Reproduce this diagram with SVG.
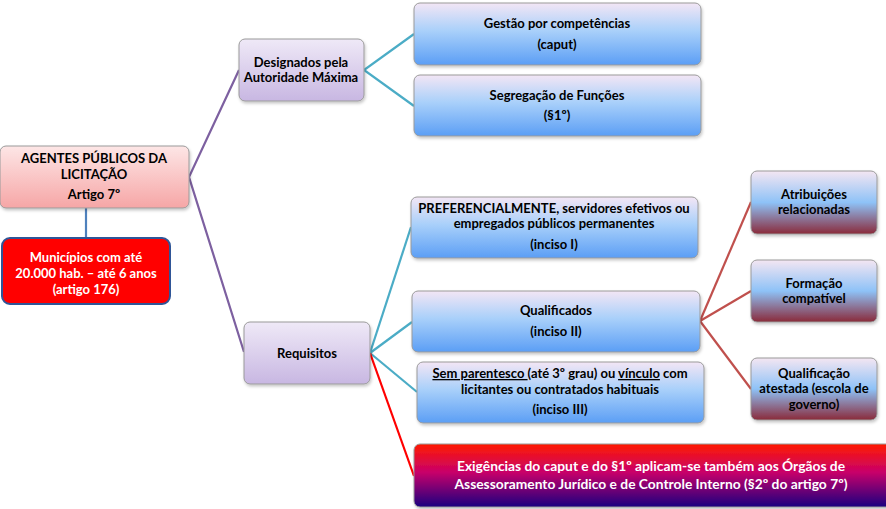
<svg xmlns="http://www.w3.org/2000/svg" width="886" height="509" viewBox="0 0 886 509">
<defs>
<linearGradient id="gPink" x1="0" y1="0" x2="0" y2="1"><stop offset="0" stop-color="#fde6e6"/><stop offset="1" stop-color="#f6a6a6"/></linearGradient>
<linearGradient id="gPurple" x1="0" y1="0" x2="0" y2="1"><stop offset="0" stop-color="#efe9f7"/><stop offset="1" stop-color="#c8b7e2"/></linearGradient>
<linearGradient id="gBlue" x1="0" y1="0" x2="0" y2="1"><stop offset="0" stop-color="#f3e6f5"/><stop offset="0.45" stop-color="#a9d0fa"/><stop offset="1" stop-color="#5b9ef5"/></linearGradient>
<linearGradient id="gMix" x1="0" y1="0" x2="0" y2="1"><stop offset="0" stop-color="#f4e6f2"/><stop offset="0.5" stop-color="#8ec2f7"/><stop offset="1" stop-color="#8a2a3a"/></linearGradient>
<linearGradient id="gBottom" x1="0" y1="0" x2="0" y2="1"><stop offset="0" stop-color="#ff1a00"/><stop offset="0.45" stop-color="#c8006a"/><stop offset="1" stop-color="#1a0080"/></linearGradient>
<filter id="sh" x="-10%" y="-10%" width="120%" height="130%"><feDropShadow dx="1" dy="2" stdDeviation="1.5" flood-color="#000" flood-opacity="0.22"/></filter>
</defs>
<style>
text{font-family:Lato,"Liberation Sans",sans-serif;font-weight:bold;font-size:13px;text-anchor:middle;fill:#000}
.w{fill:#fff}
.big{font-size:13.8px}
.box{stroke:#9a9a9a;stroke-width:1;filter:url(#sh)}
.c{fill:none;stroke-width:2.2}
</style>
<g id="connectors">
<polyline class="c" stroke="#7d60a0" points="239,70 189,177 244,352"/>
<line class="c" stroke="#4f81bd" stroke-width="1.5" x1="86" y1="208" x2="86" y2="238"/>
<polyline class="c" stroke="#4bacc6" points="414,34 364,70 414,106"/>
<line class="c" stroke="#4bacc6" x1="370" y1="353" x2="411" y2="227"/>
<line class="c" stroke="#4bacc6" x1="370" y1="353" x2="412" y2="322"/>
<line class="c" stroke="#4bacc6" x1="370" y1="353" x2="417" y2="392"/>
<line class="c" stroke="#ff0000" x1="370" y1="353" x2="414" y2="476"/>
<line class="c" stroke="#c0504d" x1="700" y1="321" x2="751" y2="202"/>
<line class="c" stroke="#c0504d" x1="700" y1="321" x2="751" y2="291"/>
<line class="c" stroke="#c0504d" x1="700" y1="321" x2="751" y2="389"/>
</g>
<g id="root">
<rect class="box" x="0" y="146" width="189" height="62" rx="6" fill="url(#gPink)"/>
<text x="94" y="163">AGENTES PÚBLICOS DA</text>
<text x="94" y="179">LICITAÇÃO</text>
<text x="94" y="199">Artigo 7º</text>
</g>
<g id="municipios">
<rect x="2" y="238" width="168" height="66" rx="8" fill="#ff0000" stroke="#2f5597" stroke-width="2"/>
<text class="w" x="86" y="262">Municípios com até</text>
<text class="w" x="86" y="278">20.000 hab. – até 6 anos</text>
<text class="w" x="86" y="294">(artigo 176)</text>
</g>
<g id="designados">
<rect class="box" x="239" y="39" width="125" height="62" rx="6" fill="url(#gPurple)"/>
<text x="301" y="67">Designados pela</text>
<text x="301" y="82">Autoridade Máxima</text>
</g>
<g id="requisitos">
<rect class="box" x="244" y="322" width="126" height="62" rx="6" fill="url(#gPurple)"/>
<text x="307" y="358">Requisitos</text>
</g>
<g id="gestao">
<rect class="box" x="414" y="3" width="287" height="62" rx="6" fill="url(#gBlue)"/>
<text x="557" y="28">Gestão por competências</text>
<text x="557" y="49">(caput)</text>
</g>
<g id="segregacao">
<rect class="box" x="414" y="75" width="287" height="61" rx="6" fill="url(#gBlue)"/>
<text x="557" y="100">Segregação de Funções</text>
<text x="557" y="120">(§1º)</text>
</g>
<g id="preferencialmente">
<rect class="box" x="411" y="197" width="287" height="61" rx="6" fill="url(#gBlue)"/>
<text x="554" y="213">PREFERENCIALMENTE, servidores efetivos ou</text>
<text x="554" y="228">empregados públicos permanentes</text>
<text x="554" y="249">(inciso I)</text>
</g>
<g id="qualificados">
<rect class="box" x="412" y="291" width="288" height="61" rx="6" fill="url(#gBlue)"/>
<text x="556" y="315">Qualificados</text>
<text x="556" y="336">(inciso II)</text>
</g>
<g id="parentesco">
<rect class="box" x="417" y="362" width="287" height="61" rx="6" fill="url(#gBlue)"/>
<text x="560" y="378"><tspan text-decoration="underline">Sem parentesco </tspan>(até 3º grau) ou <tspan text-decoration="underline">vínculo</tspan> com</text>
<text x="560" y="394">licitantes ou contratados habituais</text>
<text x="560" y="414">(inciso III)</text>
</g>
<g id="atribuicoes">
<rect class="box" x="751" y="171" width="126" height="63" rx="6" fill="url(#gMix)"/>
<text x="814" y="199">Atribuições</text>
<text x="814" y="214">relacionadas</text>
</g>
<g id="formacao">
<rect class="box" x="751" y="260" width="126" height="62" rx="6" fill="url(#gMix)"/>
<text x="814" y="288">Formação</text>
<text x="814" y="303">compatível</text>
</g>
<g id="qualificacao">
<rect class="box" x="751" y="358" width="126" height="62" rx="6" fill="url(#gMix)"/>
<text x="814" y="378">Qualificação</text>
<text x="814" y="393">atestada (escola de</text>
<text x="814" y="409">governo)</text>
</g>
<g id="exigencias">
<rect class="box" x="414" y="444" width="480" height="63" rx="6" fill="url(#gBottom)"/>
<text class="w big" x="651" y="471">Exigências do caput e do §1º aplicam-se também aos Órgãos de</text>
<text class="w big" x="651" y="489">Assessoramento Jurídico e de Controle Interno (§2º do artigo 7º)</text>
</g>
</svg>
